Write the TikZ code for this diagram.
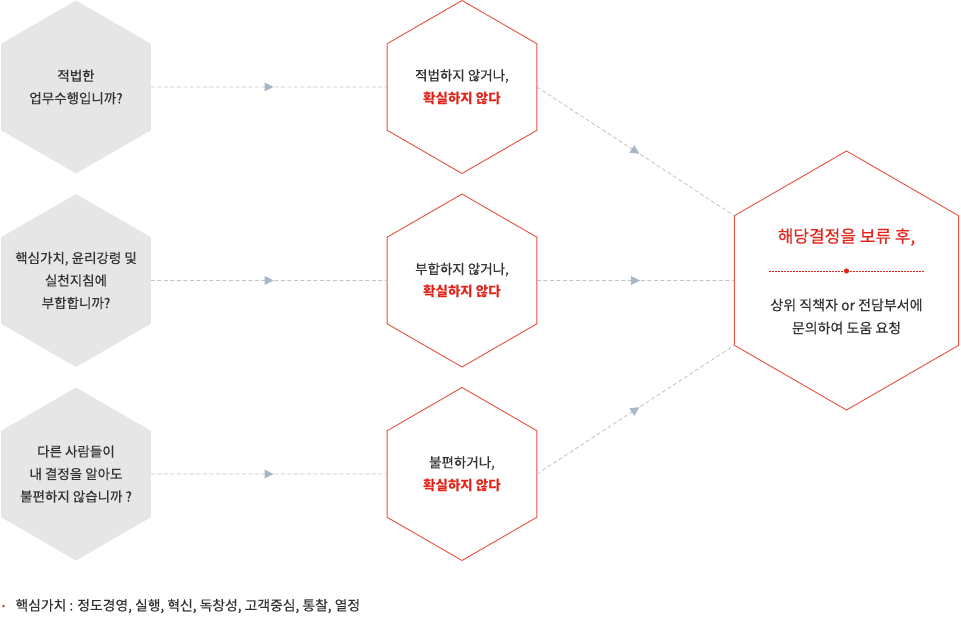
\documentclass[tikz,border=0pt]{standalone}
\usepackage{fontspec}
\setmainfont{Noto Sans CJK KR}[UprightFeatures={FakeBold=0.35}]
\usetikzlibrary{shapes.geometric,decorations.markings,positioning}
\definecolor{hexgray}{HTML}{E6E6E6}
\definecolor{hexred}{HTML}{E8503F}
\definecolor{textred}{HTML}{E2231A}
\definecolor{textdark}{HTML}{333333}
\definecolor{linegray}{HTML}{BFC3C7}
\definecolor{tipblue}{HTML}{A8B7C7}
\tikzset{
  hexshape/.style={regular polygon,regular polygon sides=6,shape border rotate=30,
    inner sep=-20pt,outer sep=0pt,minimum size=173pt},
  askhex/.style={hexshape,fill=hexgray,text=textdark,align=center,
    font=\fontsize{13.5}{22.5}\selectfont},
  denyhex/.style={hexshape,draw=hexred,line width=0.9pt,fill=white,text=textdark,
    align=center,font=\fontsize{13.5}{23}\selectfont},
  flowline/.style={draw=linegray,line width=0.8pt,dash pattern=on 4pt off 2.5pt,
    postaction={decorate,decoration={markings,mark=at position 0.5 with
      {\fill[tipblue] (-4.5pt,-4.5pt) -- (4.5pt,0pt) -- (-4.5pt,4.5pt) -- cycle;}}}},
}
\begin{document}
\begin{tikzpicture}[x=1pt,y=-1pt]
\useasboundingbox (0,0) rectangle (961,617);

% questions
\node[askhex] (q1) at (76,87) {적법한\\업무수행입니까?};
\node[askhex] (q2) at (76,280.5) {핵심가치, 윤리강령 및\\실천지침에\\부합합니까?};
\node[askhex] (q3) at (76,474) {다른 사람들이\\내 결정을 알아도\\불편하지 않습니까 ?};

% answers
\node[denyhex] (d1) at (462,87) {적법하지 않거나,\\{\bfseries\color{textred}확실하지 않다}};
\node[denyhex] (d2) at (462,280.5) {부합하지 않거나,\\{\bfseries\color{textred}확실하지 않다}};
\node[denyhex] (d3) at (462,474) {불편하거나,\\{\bfseries\color{textred}확실하지 않다}};

% result
\node[hexshape,minimum size=259pt,draw=hexred,line width=0.9pt] (res) at (846.5,280.5) {};
\node[text=textred,font=\fontsize{17}{17}\selectfont] (restitle) at (846.5,237) {해당결정을 보류 후,};
\coordinate (divl) at (769,271);
\coordinate (divr) at (924,271);
\draw[textred,line width=0.8pt,dash pattern=on 2pt off 1pt] (divl) -- (divr);
\fill[textred] (846.5,271) circle (2.6pt);
\node[text=textdark,align=center,font=\fontsize{14}{23}\selectfont] (resbody) at (846.5,316.5)
  {상위 직책자 or 전담부서에\\문의하여 도움 요청};

% connectors
\path[flowline] (q1.east) -- (d1.west);
\path[flowline] (q2.east) -- (d2.west);
\path[flowline] (q3.east) -- (d3.west);
\path[flowline] (d1.east) -- (res.150);
\path[flowline] (d2.east) -- (res.west);
\path[flowline] (d3.east) -- (res.210);

% note
\fill[textred] (3.5,606) circle (1.3pt);
\node[anchor=west,text=textdark,font=\fontsize{13.8}{14}\selectfont] (note) at (12,606)
  {핵심가치 : 정도경영, 실행, 혁신, 독창성, 고객중심, 통찰, 열정};
\end{tikzpicture}
\end{document}
